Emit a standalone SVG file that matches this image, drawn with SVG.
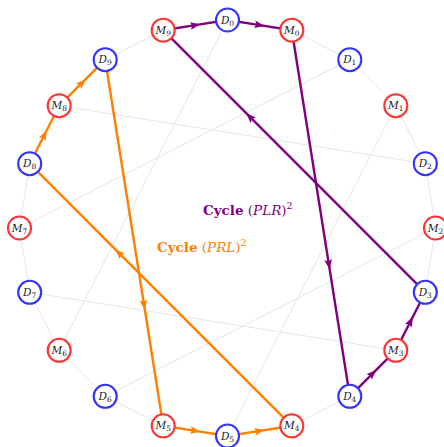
<svg xmlns="http://www.w3.org/2000/svg" width="444" height="447" viewBox="0 0 444 447">
  <style>
    .bg { stroke: #e0e0e0; stroke-width: 0.8; fill: none; }
    .pl { stroke: #800080; stroke-width: 2.4; fill: none; marker-mid: url(#ap); }
    .or { stroke: #ff8000; stroke-width: 2.4; fill: none; marker-mid: url(#ao); }
    .m circle { fill: #fff; stroke: #ff3333; stroke-width: 2.1; }
    .d circle { fill: #fff; stroke: #3333ff; stroke-width: 2.1; }
    .lbl { font-family: "DejaVu Serif", "Liberation Serif", serif; font-size: 10.5px; fill: #222; text-anchor: middle; }
    .lbl .v { font-style: italic; }
    .lbl .s { font-size: 7.5px; }
    .cap { font-family: "DejaVu Serif", "Liberation Serif", serif; font-size: 13.5px; }
  </style>
  <defs>
    <marker id="ap" markerUnits="userSpaceOnUse" markerWidth="14" markerHeight="14" viewBox="-7 -7 14 14" refX="0" refY="0" orient="auto">
      <path d="M-5,-3.8 L5,0 L-5,3.8 L-3.3,0 z" fill="#800080"/>
    </marker>
    <marker id="ao" markerUnits="userSpaceOnUse" markerWidth="14" markerHeight="14" viewBox="-7 -7 14 14" refX="0" refY="0" orient="auto">
      <path d="M-5,-3.8 L5,0 L-5,3.8 L-3.3,0 z" fill="#ff8000"/>
    </marker>
  </defs>

  <g id="connectors">
    <!-- rim edges -->
    <path class="bg" d="M291.8,30.2 L349.8,59.7 L395.8,105.7 L425.3,163.7 L435.5,228 L425.3,292.3"/>
    <path class="bg" d="M349.8,396.3 L291.8,425.8"/>
    <path class="bg" d="M163.2,425.8 L105.2,396.3 L59.2,350.3 L29.7,292.3 L19.5,228 L29.7,163.7"/>
    <path class="bg" d="M105.2,59.7 L163.2,30.2"/>
    <!-- chords -->
    <path class="bg" d="M227.5,436 L395.8,105.7"/>
    <path class="bg" d="M105.2,396.3 L435.5,228"/>
    <path class="bg" d="M29.7,292.3 L395.8,350.3"/>
    <path class="bg" d="M227.5,20 L59.2,350.3"/>
    <path class="bg" d="M349.8,59.7 L19.5,228"/>
    <path class="bg" d="M425.3,163.7 L59.2,105.7"/>

    <!-- cycle (PLR)^2 -->
    <path class="pl" d="M163.2,30.2 L195.4,25.1 L227.5,20"/>
    <path class="pl" d="M227.5,20 L259.7,25.1 L291.8,30.2"/>
    <path class="pl" d="M291.8,30.2 L328.9,264.5 L349.8,396.3"/>
    <path class="pl" d="M349.8,396.3 L372.8,373.3 L395.8,350.3"/>
    <path class="pl" d="M395.8,350.3 L410.6,321.3 L425.3,292.3"/>
    <path class="pl" d="M425.3,292.3 L249.7,116.7 L163.2,30.2"/>

    <!-- cycle (PRL)^2 -->
    <path class="or" d="M29.7,163.7 L44.5,134.7 L59.2,105.7"/>
    <path class="or" d="M59.2,105.7 L82.2,82.7 L105.2,59.7"/>
    <path class="or" d="M105.2,59.7 L144.1,305 L163.2,425.8"/>
    <path class="or" d="M163.2,425.8 L195.4,430.9 L227.5,436"/>
    <path class="or" d="M227.5,436 L259.7,430.9 L291.8,425.8"/>
    <path class="or" d="M291.8,425.8 L118.8,252.8 L29.7,163.7"/>
  </g>

  <g id="D0" class="d"><circle cx="227.5" cy="20" r="11.5"/><text class="lbl" x="227.5" y="23.5"><tspan class="v">D</tspan><tspan class="s" dy="2">0</tspan></text></g>
  <g id="M0" class="m"><circle cx="291.8" cy="30.2" r="11.5"/><text class="lbl" x="291.8" y="33.7"><tspan class="v">M</tspan><tspan class="s" dy="2">0</tspan></text></g>
  <g id="D1" class="d"><circle cx="349.8" cy="59.7" r="11.5"/><text class="lbl" x="349.8" y="63.2"><tspan class="v">D</tspan><tspan class="s" dy="2">1</tspan></text></g>
  <g id="M1" class="m"><circle cx="395.8" cy="105.7" r="11.5"/><text class="lbl" x="395.8" y="109.2"><tspan class="v">M</tspan><tspan class="s" dy="2">1</tspan></text></g>
  <g id="D2" class="d"><circle cx="425.3" cy="163.7" r="11.5"/><text class="lbl" x="425.3" y="167.2"><tspan class="v">D</tspan><tspan class="s" dy="2">2</tspan></text></g>
  <g id="M2" class="m"><circle cx="435.5" cy="228" r="11.5"/><text class="lbl" x="435.5" y="231.5"><tspan class="v">M</tspan><tspan class="s" dy="2">2</tspan></text></g>
  <g id="D3" class="d"><circle cx="425.3" cy="292.3" r="11.5"/><text class="lbl" x="425.3" y="295.8"><tspan class="v">D</tspan><tspan class="s" dy="2">3</tspan></text></g>
  <g id="M3" class="m"><circle cx="395.8" cy="350.3" r="11.5"/><text class="lbl" x="395.8" y="353.8"><tspan class="v">M</tspan><tspan class="s" dy="2">3</tspan></text></g>
  <g id="D4" class="d"><circle cx="349.8" cy="396.3" r="11.5"/><text class="lbl" x="349.8" y="399.8"><tspan class="v">D</tspan><tspan class="s" dy="2">4</tspan></text></g>
  <g id="M4" class="m"><circle cx="291.8" cy="425.8" r="11.5"/><text class="lbl" x="291.8" y="429.3"><tspan class="v">M</tspan><tspan class="s" dy="2">4</tspan></text></g>
  <g id="D5" class="d"><circle cx="227.5" cy="436" r="11.5"/><text class="lbl" x="227.5" y="439.5"><tspan class="v">D</tspan><tspan class="s" dy="2">5</tspan></text></g>
  <g id="M5" class="m"><circle cx="163.2" cy="425.8" r="11.5"/><text class="lbl" x="163.2" y="429.3"><tspan class="v">M</tspan><tspan class="s" dy="2">5</tspan></text></g>
  <g id="D6" class="d"><circle cx="105.2" cy="396.3" r="11.5"/><text class="lbl" x="105.2" y="399.8"><tspan class="v">D</tspan><tspan class="s" dy="2">6</tspan></text></g>
  <g id="M6" class="m"><circle cx="59.2" cy="350.3" r="11.5"/><text class="lbl" x="59.2" y="353.8"><tspan class="v">M</tspan><tspan class="s" dy="2">6</tspan></text></g>
  <g id="D7" class="d"><circle cx="29.7" cy="292.3" r="11.5"/><text class="lbl" x="29.7" y="295.8"><tspan class="v">D</tspan><tspan class="s" dy="2">7</tspan></text></g>
  <g id="M7" class="m"><circle cx="19.5" cy="228" r="11.5"/><text class="lbl" x="19.5" y="231.5"><tspan class="v">M</tspan><tspan class="s" dy="2">7</tspan></text></g>
  <g id="D8" class="d"><circle cx="29.7" cy="163.7" r="11.5"/><text class="lbl" x="29.7" y="167.2"><tspan class="v">D</tspan><tspan class="s" dy="2">8</tspan></text></g>
  <g id="M8" class="m"><circle cx="59.2" cy="105.7" r="11.5"/><text class="lbl" x="59.2" y="109.2"><tspan class="v">M</tspan><tspan class="s" dy="2">8</tspan></text></g>
  <g id="D9" class="d"><circle cx="105.2" cy="59.7" r="11.5"/><text class="lbl" x="105.2" y="63.2"><tspan class="v">D</tspan><tspan class="s" dy="2">9</tspan></text></g>
  <g id="M9" class="m"><circle cx="163.2" cy="30.2" r="11.5"/><text class="lbl" x="163.2" y="33.7"><tspan class="v">M</tspan><tspan class="s" dy="2">9</tspan></text></g>

  <g id="captions">
    <text class="cap" x="203" y="215" fill="#800080"><tspan font-weight="bold">Cycle</tspan> (<tspan font-style="italic">PLR</tspan>)<tspan font-size="9.5" dy="-6">2</tspan></text>
    <text class="cap" x="157" y="252" fill="#ff8000"><tspan font-weight="bold">Cycle</tspan> (<tspan font-style="italic">PRL</tspan>)<tspan font-size="9.5" dy="-6">2</tspan></text>
  </g>
</svg>
